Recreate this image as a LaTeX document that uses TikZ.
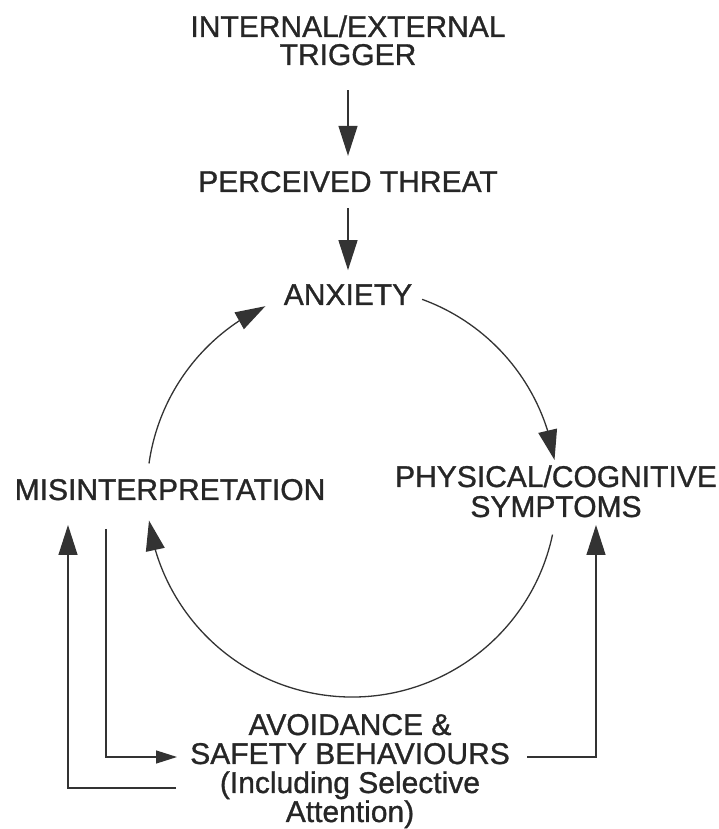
\documentclass[tikz,border=0pt]{standalone}
\usepackage{fontspec}
\setmainfont{Liberation Sans}
\newfontfamily\diagfont{Liberation Sans}[FakeBold=1.0]
\usetikzlibrary{arrows.meta,bending}
\definecolor{ink}{HTML}{262626}
\definecolor{lineink}{HTML}{333333}
\begin{document}
\begin{tikzpicture}[x=1pt,y=1pt,
  label/.style={anchor=base,inner sep=0pt,align=center,text=ink,
    font=\diagfont\fontsize{30}{29}\selectfont},
  link/.style={draw=lineink,line width=1.3pt},
  arr/.style={link,-{Triangle[length=30pt,width=19pt,fill=lineink]}},
  smallarr/.style={link,-{Triangle[length=21pt,width=13pt,fill=lineink]}}]
\useasboundingbox (0,0) rectangle (718,829);

% text blocks (anchored at the baseline of their last line)
\node[label,font=\diagfont\fontsize{30}{28}\selectfont] (trigger) at (348,764) {INTERNAL/EXTERNAL\\TRIGGER};
\node[label] (threat) at (348,637) {PERCEIVED THREAT};
\node[label] (anxiety) at (348,524) {ANXIETY};
\node[label] (mis) at (170,329) {MISINTERPRETATION};
\node[label,font=\diagfont\fontsize{30}{30}\selectfont] (sym) at (556,312) {PHYSICAL/COGNITIVE\\SYMPTOMS};
\node[label] (avoid) at (350,7) {AVOIDANCE \&\\SAFETY BEHAVIOURS\\(Including Selective\\Attention)};

% straight chain into the circle
\draw[arr,shorten <=25pt,shorten >=15pt] (trigger.south) -- (threat.north);
\draw[arr,shorten <=16pt,shorten >=14pt] (threat.south) -- (anxiety.north);

% the vicious circle
\coordinate (cyc) at (352,337);
\path (cyc) ++(70:205) coordinate (anxR)
      (cyc) ++(9:205) coordinate (symT)
      (cyc) ++(-12:205) coordinate (symB)
      (cyc) ++(188:205) coordinate (misB)
      (cyc) ++(172:205) coordinate (misT)
      (cyc) ++(115:205) coordinate (anxL);
\draw[arr] (anxR) arc[start angle=70,end angle=9,radius=205];
\draw[arr] (symB) arc[start angle=-12,end angle=-172,radius=205];
\draw[arr] (misT) arc[start angle=172,end angle=115,radius=205];

% feedback through avoidance and safety behaviours
\coordinate (misOut) at (106,300);
\coordinate (sbIn) at (177,72);
\coordinate (sbOut) at (527,72);
\coordinate (symIn) at (596,304);
\coordinate (isOut) at (176,41);
\coordinate (misIn) at (68,304);
\draw[smallarr] (misOut) |- (sbIn);
\draw[arr] (sbOut) -| (symIn);
\draw[arr] (isOut) -| (misIn);
\end{tikzpicture}
\end{document}
